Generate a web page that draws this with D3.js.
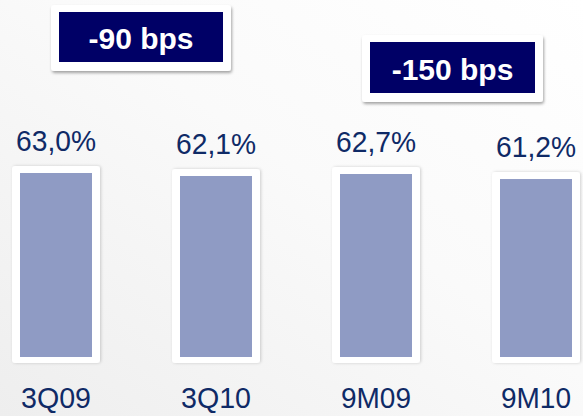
<!DOCTYPE html>
<html>
<head>
<meta charset="utf-8">
<title>Cost to income</title>
<script src="https://cdnjs.cloudflare.com/ajax/libs/d3/7.8.5/d3.min.js"></script>
<style>
  body { margin: 0; }
  svg { display: block; }
  .val { font-family: "Liberation Sans", Arial, sans-serif; fill: #0f2a66; }
  .cat { font-family: "Liberation Sans", Arial, sans-serif; fill: #0f2a66; }
  .badge text { font-family: "Liberation Sans", Arial, sans-serif; font-weight: bold; fill: #fff; }
</style>
</head>
<body>
<svg id="chart"></svg>
<script>
// data
var categories = ["3Q09", "3Q10", "9M09", "9M10"];
var values = [63.0, 62.1, 62.7, 61.2];
var badgeLabels = ["-90 bps", "-150 bps"];

var width = 583, height = 416;

var svg = d3.select("#chart")
    .attr("width", width)
    .attr("height", height);

var defs = svg.append("defs");
var grad = defs.append("linearGradient")
    .attr("id", "bg")
    .attr("x1", "100%").attr("y1", "0%")
    .attr("x2", "0%").attr("y2", "100%");
grad.append("stop").attr("offset", "0%").attr("stop-color", "#ffffff");
grad.append("stop").attr("offset", "45%").attr("stop-color", "#fafafa");
grad.append("stop").attr("offset", "100%").attr("stop-color", "#eeeeee");

var shadow = defs.append("filter").attr("id", "shadow")
    .attr("x", "-20%").attr("y", "-20%").attr("width", "140%").attr("height", "150%");
shadow.append("feDropShadow")
    .attr("dx", 1).attr("dy", 2).attr("stdDeviation", 1.6)
    .attr("flood-color", "#000").attr("flood-opacity", 0.35);

var shadowSoft = defs.append("filter").attr("id", "shadowSoft")
    .attr("x", "-20%").attr("y", "-10%").attr("width", "140%").attr("height", "120%");
shadowSoft.append("feDropShadow")
    .attr("dx", 1).attr("dy", 0).attr("stdDeviation", 1.5)
    .attr("flood-color", "#000").attr("flood-opacity", 0.18);

svg.append("rect").attr("width", width).attr("height", height).attr("fill", "url(#bg)");

// one 160px slot per bar
var x = d3.scaleBand()
    .domain(categories)
    .range([-24, 616])
    .padding(0);

// truncated value axis, as in the source slide
var y = d3.scaleLinear()
    .domain([8, 63])
    .range([357, 173]);

var bw = 72;
function cx(d) { return x(d) + x.bandwidth() / 2; }

var g = svg.append("g");

var bars = g.selectAll("g.bar")
    .data(categories)
    .enter().append("g")
    .attr("class", "bar");

bars.append("rect")
    .attr("x", function(d) { return cx(d) - bw / 2 - 8; })
    .attr("y", function(d, i) { return y(values[i]) - 7; })
    .attr("width", bw + 16)
    .attr("height", function(d, i) { return y(8) - y(values[i]) + 13; })
    .attr("rx", 3)
    .attr("fill", "#fff")
    .attr("filter", "url(#shadowSoft)");

bars.append("rect")
    .attr("x", function(d) { return cx(d) - bw / 2; })
    .attr("y", function(d, i) { return y(values[i]); })
    .attr("width", bw)
    .attr("height", function(d, i) { return y(8) - y(values[i]); })
    .attr("fill", "#8f9bc4");

bars.append("text")
    .attr("class", "val")
    .attr("x", cx)
    .attr("y", function(d, i) { return y(values[i]) - 22; })
    .attr("text-anchor", "middle")
    .attr("font-size", 29)
    .attr("textLength", 80)
    .attr("lengthAdjust", "spacingAndGlyphs")
    .text(function(d, i) { return values[i].toFixed(1).replace(".", ",") + "%"; });

bars.append("text")
    .attr("class", "cat")
    .attr("x", cx)
    .attr("y", 408)
    .attr("text-anchor", "middle")
    .attr("font-size", 29)
    .attr("textLength", 70)
    .attr("lengthAdjust", "spacingAndGlyphs")
    .text(function(d) { return d; });

// change badges
var badgeBox = [
  { x: 51, y: 5, w: 180, h: 66 },
  { x: 362, y: 35, w: 181, h: 67 }
];

var badges = svg.selectAll("g.badge")
    .data(badgeLabels)
    .enter().append("g")
    .attr("class", "badge");

badges.append("rect")
    .attr("x", function(d, i) { return badgeBox[i].x; })
    .attr("y", function(d, i) { return badgeBox[i].y; })
    .attr("width", function(d, i) { return badgeBox[i].w; })
    .attr("height", function(d, i) { return badgeBox[i].h; })
    .attr("rx", 3)
    .attr("fill", "#fff")
    .attr("filter", "url(#shadow)");

badges.append("rect")
    .attr("x", function(d, i) { return badgeBox[i].x + 8; })
    .attr("y", function(d, i) { return badgeBox[i].y + 7; })
    .attr("width", function(d, i) { return badgeBox[i].w - 16; })
    .attr("height", function(d, i) { return badgeBox[i].h - 16; })
    .attr("fill", "#000066");

badges.append("text")
    .attr("x", function(d, i) { return badgeBox[i].x + badgeBox[i].w / 2; })
    .attr("y", function(d, i) { return badgeBox[i].y + badgeBox[i].h / 2 + 11; })
    .attr("text-anchor", "middle")
    .attr("font-size", 30)
    .text(function(d) { return d; });
</script>
</body>
</html>
